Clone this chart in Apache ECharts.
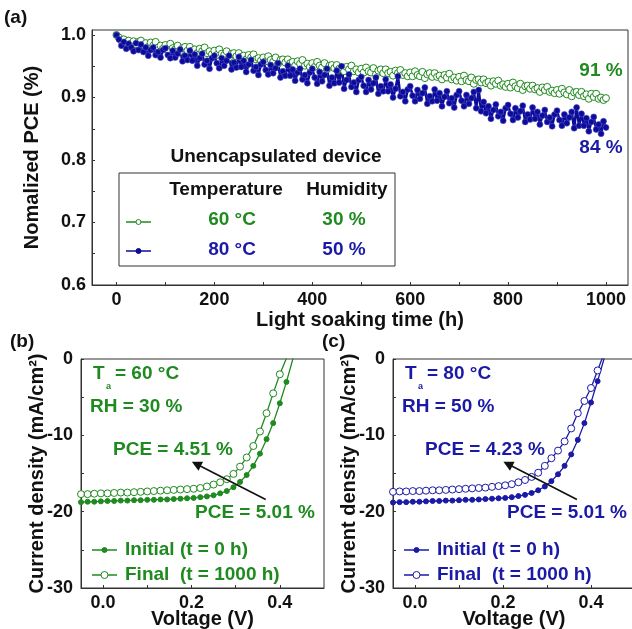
<!DOCTYPE html>
<html>
<head>
<meta charset="utf-8">
<title>PCE stability under light soaking</title>
<script src="https://cdn.jsdelivr.net/npm/echarts@6/dist/echarts.min.js"></script>
<style>
  html, body { margin: 0; padding: 0; background: #fff; }
  #chart { width: 632px; height: 629px; }
</style>
</head>
<body>
<div id="chart"></div>
<script>
// ---- (a) normalized PCE vs light soaking time ----
const hours = [
  0, 5, 10, 15, 20, 25, 30, 35, 40, 45,
  50, 55, 60, 65, 70, 75, 80, 85, 90, 95,
  100, 105, 110, 115, 120, 125, 130, 135, 140, 145,
  150, 155, 160, 165, 170, 175, 180, 185, 190, 195,
  200, 205, 210, 215, 220, 225, 230, 235, 240, 245,
  250, 255, 260, 265, 270, 275, 280, 285, 290, 295,
  300, 305, 310, 315, 320, 325, 330, 335, 340, 345,
  350, 355, 360, 365, 370, 375, 380, 385, 390, 395,
  400, 405, 410, 415, 420, 425, 430, 435, 440, 445,
  450, 455, 460, 465, 470, 475, 480, 485, 490, 495,
  500, 505, 510, 515, 520, 525, 530, 535, 540, 545,
  550, 555, 560, 565, 570, 575, 580, 585, 590, 595,
  600, 605, 610, 615, 620, 625, 630, 635, 640, 645,
  650, 655, 660, 665, 670, 675, 680, 685, 690, 695,
  700, 705, 710, 715, 720, 725, 730, 735, 740, 745,
  750, 755, 760, 765, 770, 775, 780, 785, 790, 795,
  800, 805, 810, 815, 820, 825, 830, 835, 840, 845,
  850, 855, 860, 865, 870, 875, 880, 885, 890, 895,
  900, 905, 910, 915, 920, 925, 930, 935, 940, 945,
  950, 955, 960, 965, 970, 975, 980, 985, 990, 995,
  1000
];

// 60 °C / 30 %
const pce60 = [
  1.000, 0.996, 0.991, 0.993, 0.988, 0.991, 0.986, 0.990, 0.985, 0.989,
  0.991, 0.984, 0.987, 0.981, 0.988, 0.983, 0.989, 0.980, 0.983, 0.978,
  0.984, 0.977, 0.986, 0.979, 0.977, 0.983, 0.974, 0.979, 0.981, 0.975,
  0.981, 0.975, 0.977, 0.971, 0.978, 0.974, 0.980, 0.971, 0.974, 0.969,
  0.975, 0.968, 0.977, 0.970, 0.968, 0.974, 0.964, 0.970, 0.971, 0.966,
  0.971, 0.965, 0.967, 0.961, 0.968, 0.964, 0.969, 0.961, 0.963, 0.959,
  0.964, 0.958, 0.966, 0.960, 0.957, 0.964, 0.954, 0.960, 0.961, 0.956,
  0.961, 0.955, 0.957, 0.951, 0.958, 0.954, 0.960, 0.951, 0.954, 0.949,
  0.955, 0.949, 0.957, 0.951, 0.948, 0.955, 0.945, 0.951, 0.952, 0.947,
  0.952, 0.946, 0.948, 0.942, 0.949, 0.945, 0.951, 0.942, 0.945, 0.940,
  0.946, 0.940, 0.948, 0.942, 0.940, 0.947, 0.937, 0.943, 0.945, 0.939,
  0.945, 0.939, 0.941, 0.935, 0.943, 0.939, 0.944, 0.936, 0.939, 0.934,
  0.940, 0.934, 0.942, 0.936, 0.934, 0.941, 0.931, 0.937, 0.939, 0.933,
  0.939, 0.933, 0.935, 0.929, 0.936, 0.932, 0.938, 0.929, 0.932, 0.927,
  0.933, 0.926, 0.935, 0.928, 0.926, 0.932, 0.922, 0.928, 0.929, 0.924,
  0.929, 0.923, 0.925, 0.919, 0.926, 0.922, 0.927, 0.919, 0.921, 0.917,
  0.922, 0.916, 0.924, 0.918, 0.915, 0.922, 0.912, 0.918, 0.919, 0.914,
  0.919, 0.913, 0.915, 0.909, 0.916, 0.912, 0.917, 0.909, 0.911, 0.907,
  0.912, 0.906, 0.914, 0.908, 0.905, 0.912, 0.902, 0.908, 0.909, 0.904,
  0.909, 0.902, 0.905, 0.898, 0.906, 0.901, 0.906, 0.898, 0.900, 0.896,
  0.899
];

// 80 °C / 50 %
const pce80 = [
  1.000, 0.993, 0.983, 0.989, 0.978, 0.986, 0.980, 0.974, 0.987, 0.976,
  0.985, 0.973, 0.980, 0.967, 0.976, 0.980, 0.968, 0.973, 0.964, 0.976,
  0.979, 0.968, 0.963, 0.975, 0.964, 0.970, 0.977, 0.958, 0.967, 0.960,
  0.975, 0.959, 0.969, 0.951, 0.963, 0.970, 0.953, 0.959, 0.946, 0.963,
  0.967, 0.955, 0.947, 0.963, 0.951, 0.959, 0.967, 0.945, 0.956, 0.948,
  0.965, 0.949, 0.959, 0.941, 0.953, 0.960, 0.943, 0.949, 0.936, 0.953,
  0.957, 0.944, 0.937, 0.952, 0.939, 0.947, 0.955, 0.932, 0.942, 0.935,
  0.951, 0.935, 0.945, 0.927, 0.940, 0.946, 0.929, 0.936, 0.923, 0.940,
  0.946, 0.932, 0.922, 0.941, 0.926, 0.936, 0.946, 0.919, 0.932, 0.923,
  0.943, 0.924, 0.950, 0.914, 0.928, 0.937, 0.917, 0.924, 0.909, 0.928,
  0.933, 0.919, 0.909, 0.928, 0.913, 0.923, 0.932, 0.906, 0.918, 0.910,
  0.929, 0.910, 0.921, 0.900, 0.914, 0.934, 0.902, 0.909, 0.894, 0.913,
  0.918, 0.903, 0.894, 0.912, 0.898, 0.907, 0.916, 0.890, 0.902, 0.894,
  0.913, 0.895, 0.907, 0.886, 0.901, 0.910, 0.891, 0.899, 0.884, 0.904,
  0.910, 0.895, 0.886, 0.904, 0.890, 0.899, 0.909, 0.883, 0.912, 0.878,
  0.893, 0.875, 0.886, 0.866, 0.880, 0.889, 0.870, 0.877, 0.863, 0.883,
  0.888, 0.874, 0.864, 0.883, 0.868, 0.878, 0.887, 0.861, 0.873, 0.865,
  0.884, 0.866, 0.877, 0.857, 0.871, 0.880, 0.861, 0.868, 0.854, 0.873,
  0.879, 0.864, 0.855, 0.873, 0.859, 0.868, 0.877, 0.851, 0.884, 0.855,
  0.874, 0.855, 0.867, 0.846, 0.861, 0.869, 0.849, 0.857, 0.842, 0.862,
  0.852
];

// ---- (b), (c) J-V curves ----
const volts = [
  -0.05, -0.035, -0.02, -0.005, 0.01, 0.025, 0.04, 0.055, 0.07, 0.085,
  0.1, 0.115, 0.13, 0.145, 0.16, 0.175, 0.19, 0.205, 0.22, 0.235,
  0.25, 0.265, 0.28, 0.295, 0.31, 0.325, 0.34, 0.355, 0.37, 0.385,
  0.4, 0.415, 0.43
];
const jInit60 = [
  -18.75, -18.7, -18.7, -18.65, -18.6, -18.6, -18.55, -18.55, -18.5, -18.5,
  -18.45, -18.45, -18.4, -18.4, -18.35, -18.3, -18.25, -18.2, -18.1, -18.0,
  -17.85, -17.6, -17.3, -16.8, -16.1, -15.2, -14.0, -12.4, -10.5, -8.4,
  -5.8, -3.0, 0.1
];
const jFinal60 = [
  -17.7, -17.7, -17.65, -17.6, -17.6, -17.55, -17.5, -17.5, -17.45, -17.4,
  -17.35, -17.3, -17.25, -17.2, -17.15, -17.1, -17.05, -17.0, -16.9, -16.7,
  -16.45, -16.15, -15.75, -15.05, -14.1, -12.9, -11.4, -9.5, -7.1, -4.5,
  -2.0, 0.1
];
const jInit80 = [
  -18.8, -18.75, -18.75, -18.7, -18.7, -18.65, -18.6, -18.6, -18.55, -18.55,
  -18.5, -18.45, -18.45, -18.4, -18.35, -18.3, -18.25, -18.2, -18.1, -17.95,
  -17.8, -17.55, -17.2, -16.7, -16.0, -15.1, -14.0, -12.5, -10.6, -8.4,
  -5.7, -2.9, 0.1
];
const jFinal80 = [
  -17.4, -17.35, -17.35, -17.3, -17.3, -17.25, -17.2, -17.2, -17.15, -17.1,
  -17.05, -17.0, -16.95, -16.9, -16.85, -16.75, -16.65, -16.55, -16.4, -16.15,
  -15.85, -15.45, -14.9, -14.0, -13.0, -12.0, -10.8, -9.1, -7.1, -5.5,
  -3.8, -1.5, 0.8
];

// axis ticks / labels
const hourLabels = [0, 200, 400, 600, 800, 1000];
const hourTicks = [0, 100, 200, 300, 400, 500, 600, 700, 800, 900, 1000];
const pceLabels = [0.6, 0.7, 0.8, 0.9, 1.0];
const pceTicks = [0.6, 0.65, 0.7, 0.75, 0.8, 0.85, 0.9, 0.95, 1.0];
const voltLabels = [0, 0.2, 0.4];
const voltTicks = [0, 0.1, 0.2, 0.3, 0.4];
const jLabels = [-30, -20, -10, 0];
const jTicks = [-30, -25, -20, -15, -10, -5, 0];

// PCE arrow: from initial to final (V, J)
const arrowFrom = [0.368, -18.4];
const arrowTo = [0.211, -13.76];

const GREEN = '#1f8a1f';
const BLUE = '#1a1aa6';
const BLUE_DARK = '#0c0c96';
const INK = '#111';
const FAMILY = '"Liberation Sans", Arial, sans-serif';
const FONT = 'bold 19px ' + FAMILY;

const pairs = (xs, ys) => ys.map((y, i) => [xs[i], y]);

function axisX(grid, min, max, labels, ticks, fmt, name, gap) {
  return {
    type: 'value', gridIndex: grid, min, max,
    axisLine: { onZero: false, lineStyle: { color: '#333', width: 1 } },
    axisTick: { inside: true, length: 3, customValues: ticks, lineStyle: { color: '#333' } },
    axisLabel: {
      customValues: labels, formatter: fmt, margin: 6,
      color: INK, fontSize: 18, fontWeight: 'bold', fontFamily: FAMILY
    },
    splitLine: { show: false },
    name, nameLocation: 'middle', nameGap: gap, nameMoveOverlap: false,
    nameTextStyle: { color: INK, fontSize: 20, fontWeight: 'bold', fontFamily: FAMILY }
  };
}

function axisY(grid, min, max, labels, ticks, fmt, name, gap, margin) {
  const ax = axisX(grid, min, max, labels, ticks, fmt, name, gap);
  ax.axisLabel.margin = margin;
  ax.nameRotate = 90;
  return ax;
}

function label(x, y, text, color, align, font) {
  return {
    type: 'text', x, y, silent: true, z: 100,
    style: { text, fill: color || INK, font: font || FONT, align: align || 'left', verticalAlign: 'middle' }
  };
}

function legendMark(x, y, color, open, r) {
  return [
    { type: 'line', silent: true, z: 100, shape: { x1: x, y1: y, x2: x + 25, y2: y }, style: { stroke: color, lineWidth: 1.5 } },
    { type: 'circle', silent: true, z: 101, shape: { cx: x + 12.5, cy: y, r }, style: { fill: open ? '#fff' : color, stroke: color, lineWidth: 1 } }
  ];
}

// J-V panel overlay texts, dx = horizontal offset of the panel
function jvTexts(dx, color, tag, temp, rh, pceFinal) {
  return [
    label(10 + dx, 342, tag),
    label(93 + dx, 374, 'T', color),
    label(106 + dx, 387, 'a', color, 'left', 'bold 9px ' + FAMILY),
    label(115 + dx, 374, '= ' + temp + ' °C', color),
    label(90 + dx, 407, 'RH = ' + rh + ' %', color),
    label(113 + dx, 450, 'PCE = ' + pceFinal + ' %', color),
    label(195 + dx, 513, 'PCE = 5.01 %', color),
    ...legendMark(92 + dx, 550, color, false, 2.5),
    label(125 + dx, 550, 'Initial (t = 0 h)', color),
    ...legendMark(92 + dx, 575, color, true, 3.5),
    label(125 + dx, 575, 'Final  (t = 1000 h)', color)
  ];
}

function jvSeries(idx, data, color, open, withArrow) {
  const s = {
    type: 'line', xAxisIndex: idx, yAxisIndex: idx, data,
    symbol: 'circle', symbolSize: open ? 7 : 5, showAllSymbol: true, silent: true,
    lineStyle: { color, width: 1.3 },
    itemStyle: open ? { color: '#fff', borderColor: color, borderWidth: 1 } : { color, borderColor: color }
  };
  if (withArrow) {
    s.markLine = {
      silent: true, symbol: ['none', 'triangle'], symbolSize: 10,
      lineStyle: { color: INK, width: 1.6, type: 'solid' },
      itemStyle: { color: INK },
      label: { show: false },
      data: [[{ coord: arrowFrom }, { coord: arrowTo }]]
    };
  }
  return s;
}

const chart = echarts.init(document.getElementById('chart'), null, { renderer: 'canvas' });

const gridBase = { show: true, borderColor: '#333', borderWidth: 1, backgroundColor: 'transparent', containLabel: false, outerBoundsMode: 'none' };

chart.setOption({
  animation: false,
  backgroundColor: '#fff',
  grid: [
    Object.assign({ left: 92, top: 30, width: 536, height: 255 }, gridBase),
    Object.assign({ left: 81, top: 359, width: 243, height: 229 }, gridBase),
    Object.assign({ left: 393, top: 359, width: 242, height: 229 }, gridBase)
  ],
  xAxis: [
    axisX(0, -50, 1045, hourLabels, hourTicks, v => String(v), 'Light soaking time (h)', 25),
    axisX(1, -0.05, 0.5, voltLabels, voltTicks, v => v.toFixed(1), 'Voltage (V)', 21),
    axisX(2, -0.05, 0.5, voltLabels, voltTicks, v => v.toFixed(1), 'Voltage (V)', 21)
  ],
  yAxis: [
    axisY(0, 0.6, 1.008, pceLabels, pceTicks, v => v.toFixed(1), 'Nomalized PCE (%)', 50, 6),
    axisY(1, -30, 0, jLabels, jTicks, v => String(v), 'Current density (mA/cm²)', 34, 8),
    axisY(2, -30, 0, jLabels, jTicks, v => String(v), 'Current density (mA/cm²)', 34, 8)
  ],
  series: [
    {
      type: 'line', xAxisIndex: 0, yAxisIndex: 0, data: pairs(hours, pce60),
      symbol: 'circle', symbolSize: 7, showAllSymbol: true, silent: true,
      lineStyle: { color: GREEN, width: 1.5 },
      itemStyle: { color: '#fff', borderColor: GREEN, borderWidth: 1 }
    },
    {
      type: 'line', xAxisIndex: 0, yAxisIndex: 0, data: pairs(hours, pce80),
      symbol: 'circle', symbolSize: 6, showAllSymbol: true, silent: true,
      lineStyle: { color: BLUE_DARK, width: 2.6 },
      itemStyle: { color: BLUE_DARK, borderColor: '#4a4ad0', borderWidth: 0.6 }
    },
    jvSeries(1, pairs(volts, jInit60), GREEN, false, true),
    jvSeries(1, pairs(volts, jFinal60), GREEN, true, false),
    jvSeries(2, pairs(volts, jInit80), BLUE, false, true),
    jvSeries(2, pairs(volts, jFinal80), BLUE, true, false)
  ],
  graphic: [
    // panel (a) overlay
    label(4, 18, '(a)'),
    label(276, 157, 'Unencapsulated device', INK, 'center'),
    { type: 'rect', silent: true, z: 99, shape: { x: 119, y: 173, width: 276, height: 93 }, style: { fill: '#fff', stroke: '#333', lineWidth: 1 } },
    label(226, 190, 'Temperature', INK, 'center'),
    label(347, 190, 'Humidity', INK, 'center'),
    label(232, 220, '60 °C', GREEN, 'center'),
    label(344, 220, '30 %', GREEN, 'center'),
    label(232, 250, '80 °C', BLUE, 'center'),
    label(344, 250, '50 %', BLUE, 'center'),
    ...legendMark(126, 222, GREEN, true, 2.5),
    ...legendMark(126, 251, BLUE_DARK, false, 2.5),
    label(601, 71, '91 %', GREEN, 'center'),
    label(601, 148, '84 %', BLUE, 'center'),
    // panels (b), (c)
    ...jvTexts(0, GREEN, '(b)', 60, 30, '4.51'),
    ...jvTexts(312, BLUE, '(c)', 80, 50, '4.23')
  ]
});
</script>
</body>
</html>
